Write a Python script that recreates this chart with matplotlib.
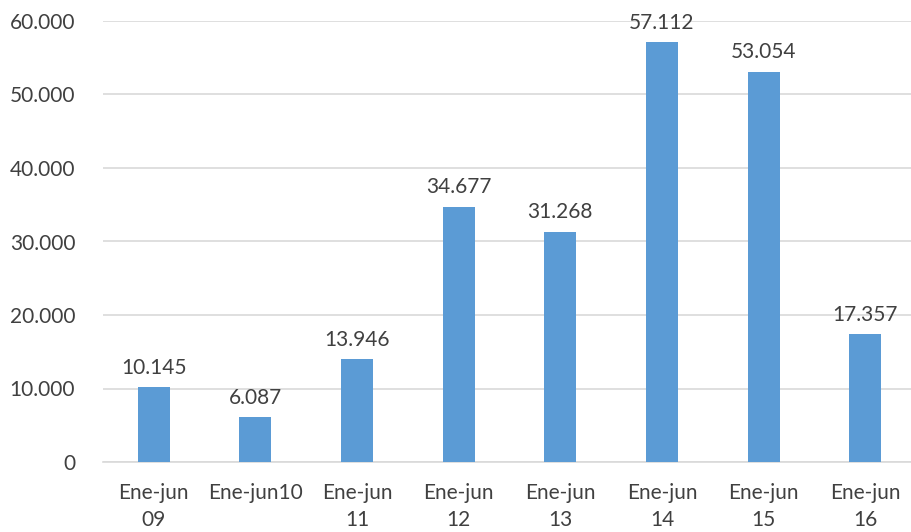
import matplotlib.pyplot as plt
from matplotlib.ticker import FuncFormatter

periods = ['Ene-jun\n09', 'Ene-jun10', 'Ene-jun\n11', 'Ene-jun\n12',
           'Ene-jun\n13', 'Ene-jun\n14', 'Ene-jun\n15', 'Ene-jun\n16']
values = [10145, 6087, 13946, 34677, 31268, 57112, 53054, 17357]
y_ticks = [0, 10000, 20000, 30000, 40000, 50000, 60000]


def dotted(v, pos=None):
    # thousands separated by a dot, Spanish style
    return '{:,.0f}'.format(v).replace(',', '.')


plt.rcParams['font.family'] = ['Lato', 'DejaVu Sans']
text_color = '#404040'

fig = plt.figure(figsize=(9.12, 5.32), dpi=100)
ax = fig.add_axes([103 / 912, 70 / 532, 813 / 912, 441 / 532])

x = list(range(len(values)))
ax.bar(x, values, width=0.315, color='#5b9bd5', zorder=3)

for xi, v in zip(x, values):
    ax.annotate(dotted(v), (xi, v), xytext=(0, 7), textcoords='offset points',
                ha='center', va='bottom', fontsize=15, color=text_color)

ax.set_xlim(-0.5, len(values) - 0.5)
ax.set_ylim(0, 60000)
ax.set_yticks(y_ticks)
ax.yaxis.set_major_formatter(FuncFormatter(dotted))
ax.set_xticks(x)
ax.set_xticklabels(periods, linespacing=1.45)

ax.grid(axis='y', color='#d9d9d9', linewidth=1.2, zorder=0)
for side in ['top', 'right', 'left']:
    ax.spines[side].set_visible(False)
ax.spines['bottom'].set_color('#d9d9d9')
ax.spines['bottom'].set_linewidth(1.2)
ax.spines['bottom'].set_zorder(1)
ax.tick_params(axis='both', length=0, labelsize=15, colors=text_color)
ax.tick_params(axis='x', pad=15)
ax.tick_params(axis='y', pad=20)

plt.savefig('out.png', dpi=100)
